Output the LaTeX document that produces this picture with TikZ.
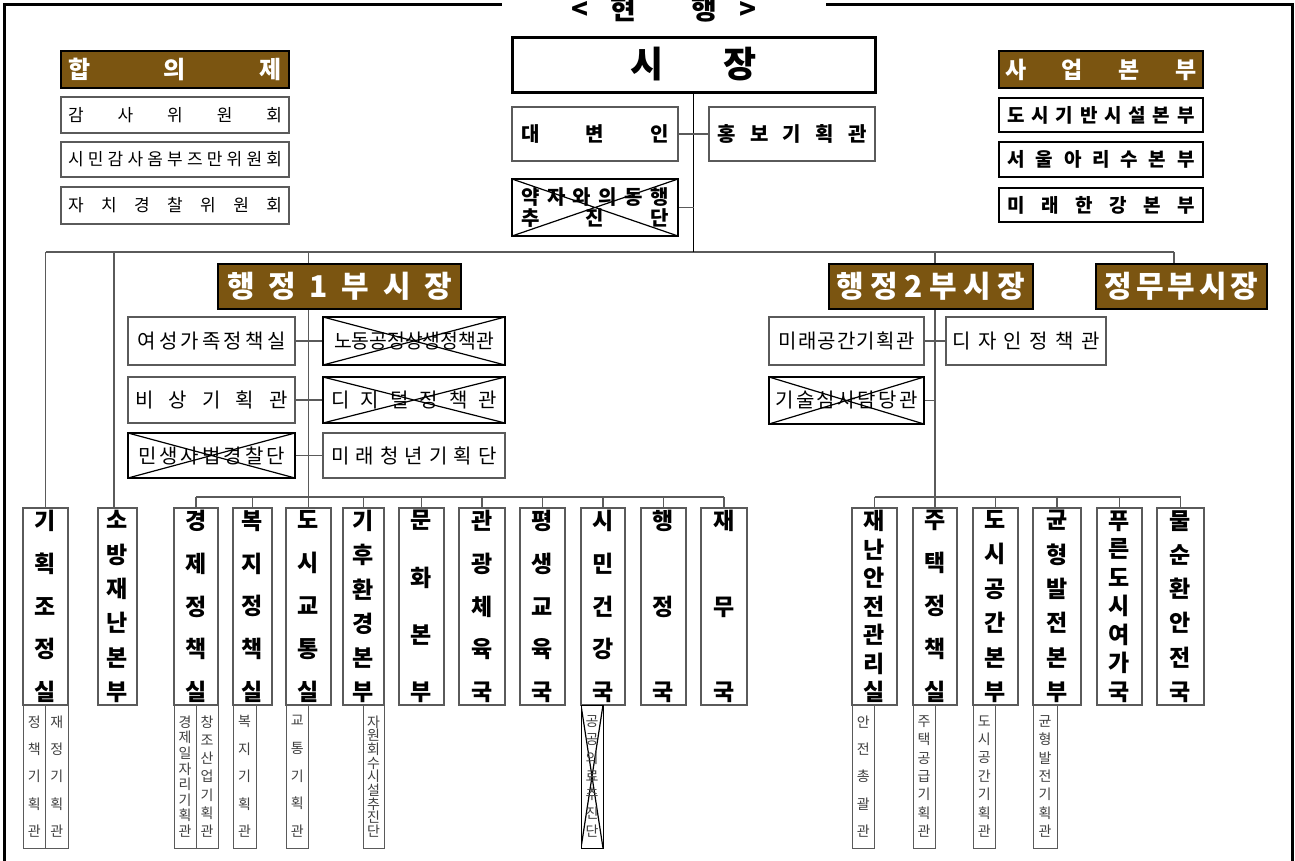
\documentclass[tikz,border=0pt]{standalone}
\usepackage{fontspec}
\setmainfont{Noto Sans CJK KR}
\usepackage{graphicx}
\definecolor{brownbox}{RGB}{123,85,17}
\definecolor{lgray}{RGB}{90,90,90}
\makeatletter
\long\def\sepchars#1#2{\def\sepx{#1}\sep@A#2\relax}
\def\sep@A#1{#1\sep@B}
\def\sep@B#1{\ifx\relax#1\else\sepx#1\expandafter\sep@B\fi}
\makeatother
\newcommand\vsep{\par\vfill}
\newsavebox\fitb
\newcommand\fitx[2]{\sbox\fitb{\sepchars{}{#2}}\ifdim\wd\fitb>#1\relax\resizebox{#1}{\height}{\usebox\fitb}\else\makebox[#1]{\sepchars{\hfill}{#2}}\fi}
\newcommand\vstackc[3]{\parbox[c][#1][s]{#2}{\baselineskip=0pt\lineskip=0pt\lineskiplimit=-\maxdimen\parskip=0pt\centering\sepchars{\vsep}{#3}\par}}
\newcommand\bx[7]{\node[#1, minimum width={(#5)-(#3)}, minimum height={(#6)-(#4)}] (#2) at ({((#3)+(#5))/2},{((#4)+(#6))/2}) {#7};}
\tikzset{
 obox/.style={draw=lgray, line width=1.2pt, inner sep=0pt, fill=white},
 hdrbox/.style={draw=black, line width=2pt, fill=brownbox, text=white, inner sep=0pt},
 xcross/.style={path picture={\draw[black,line width=1.2pt] (path picture bounding box.north west) -- (path picture bounding box.south east) (path picture bounding box.north east) -- (path picture bounding box.south west);}},
 colbox/.style={obox, font=\fontsize{23}{24}\selectfont\bfseries},
 subbox/.style={obox, line width=1pt, text=black!75, font=\fontsize{14}{15}\selectfont},
 lstbox/.style={obox, font=\fontsize{17}{18}\selectfont},
 lstbbox/.style={obox, draw=black, line width=2pt, font=\fontsize{19}{20}\selectfont\bfseries},
 midbox/.style={obox, font=\fontsize{20}{21}\selectfont},
 midbbox/.style={obox, font=\fontsize{20}{21}\selectfont\bfseries},
 conn/.style={draw=lgray, line width=1.2pt},
 frame/.style={draw=black, line width=3pt, line cap=rect},
}
\begin{document}
\begin{tikzpicture}[x=1pt,y=-1pt]
\useasboundingbox (0,0) rectangle (1295,860);
% frame
\draw[frame] (500,4) -- (4,4) -- (4,865);
\draw[frame] (827,4) -- (1292,4) -- (1292,865);
\node[font=\fontsize{28}{28}\selectfont\bfseries, inner sep=0pt] (title) at (664,9) {<\hspace{22pt}현\hspace{55pt}행\hspace{22pt}>};
% mayor
\bx{obox, draw=black, line width=3pt, font=\fontsize{36}{36}\selectfont\bfseries}{mayor}{512}{37}{875}{92}{시\hspace{60pt}장}
\bx{midbbox}{spokes}{512}{107}{678}{161}{\fitx{148pt}{대변인}}
\bx{midbbox}{pr}{709}{107}{875}{161}{\fitx{149pt}{홍보기획관}}
\bx{midbbox, draw=black, xcross, align=center}{weak}{512}{179}{678}{236}{\fitx{147pt}{약자와의동행}\\\fitx{147pt}{추진단}}
% councils
\bx{hdrbox, font=\fontsize{24}{24}\selectfont\bfseries}{hapui}{61}{51}{289}{88}{\fitx{214pt}{합의제}}
\bx{lstbox}{gamsa}{61}{97}{289}{133}{\fitx{214pt}{감사위원회}}
\bx{lstbox}{ombuds}{61}{142}{289}{177}{\fitx{214pt}{시민감사옴부즈만위원회}}
\bx{lstbox}{police}{61}{187}{289}{224}{\fitx{214pt}{자치경찰위원회}}
% business headquarters
\bx{hdrbox, font=\fontsize{23}{23}\selectfont\bfseries}{saup}{999}{51}{1203}{88}{\fitx{192pt}{사업본부}}
\bx{lstbbox}{infra}{999}{98}{1203}{132}{\fitx{187pt}{도시기반시설본부}}
\bx{lstbbox}{arisu}{999}{142}{1203}{177}{\fitx{187pt}{서울아리수본부}}
\bx{lstbbox}{hangang}{999}{188}{1203}{222}{\fitx{187pt}{미래한강본부}}
% deputies
\bx{hdrbox, font=\fontsize{30}{30}\selectfont\bfseries}{dep1}{218}{264}{461}{309}{\fitx{225pt}{행정1부시장}}
\bx{hdrbox, font=\fontsize{30}{30}\selectfont\bfseries}{dep2}{829}{264}{1033}{309}{\fitx{189pt}{행정2부시장}}
\bx{hdrbox, font=\fontsize{30}{30}\selectfont\bfseries}{depP}{1096}{264}{1267}{309}{\fitx{154pt}{정무부시장}}
% under deputy 1
\bx{midbox}{women}{128}{317}{295}{365}{\fitx{148pt}{여성가족정책실}}
\bx{midbox, draw=black, xcross}{labor}{323}{317}{505}{365}{\fitx{160pt}{노동공정상생정책관}}
\bx{midbox}{emerg}{128}{377}{295}{423}{\fitx{152pt}{비상기획관}}
\bx{midbox, draw=black, xcross}{digital}{323}{377}{505}{423}{\fitx{166pt}{디지털정책관}}
\bx{midbox, draw=black, xcross}{judicial}{128}{433}{295}{478}{\fitx{147pt}{민생사법경찰단}}
\bx{midbox}{youth}{323}{433}{505}{478}{\fitx{165pt}{미래청년기획단}}
% under deputy 2
\bx{midbox}{space}{769}{317}{924}{365}{\fitx{136pt}{미래공간기획관}}
\bx{midbox}{design}{946}{317}{1106}{365}{\fitx{147pt}{디자인정책관}}
\bx{midbox, draw=black, xcross}{tech}{769}{377}{924}{424}{\fitx{142pt}{기술심사담당관}}
% columns
\bx{colbox}{gihoek}{23}{508}{68}{705}{\vstackc{190pt}{28pt}{기획조정실}}
\bx{colbox}{sobang}{98}{508}{137}{705}{\vstackc{190pt}{28pt}{소방재난본부}}
\bx{colbox}{econ}{174}{508}{218}{705}{\vstackc{190pt}{28pt}{경제정책실}}
\bx{colbox}{welfare}{233}{508}{272}{705}{\vstackc{190pt}{28pt}{복지정책실}}
\bx{colbox}{transport}{286}{508}{331}{705}{\vstackc{190pt}{28pt}{도시교통실}}
\bx{colbox}{climate}{343}{508}{384}{705}{\vstackc{190pt}{28pt}{기후환경본부}}
\bx{colbox}{culture}{399}{508}{444}{705}{\vstackc{190pt}{28pt}{문화본부}}
\bx{colbox}{tourism}{459}{508}{505}{705}{\vstackc{190pt}{28pt}{관광체육국}}
\bx{colbox}{lifelong}{520}{508}{565}{705}{\vstackc{190pt}{28pt}{평생교육국}}
\bx{colbox}{health}{581}{508}{625}{705}{\vstackc{190pt}{28pt}{시민건강국}}
\bx{colbox}{admin}{641}{508}{686}{705}{\vstackc{190pt}{28pt}{행정국}}
\bx{colbox}{finance}{701}{508}{747}{705}{\vstackc{190pt}{28pt}{재무국}}
\bx{colbox}{disaster}{852}{508}{897}{705}{\vstackc{190pt}{28pt}{재난안전관리실}}
\bx{colbox}{housing}{913}{508}{957}{705}{\vstackc{190pt}{28pt}{주택정책실}}
\bx{colbox}{urbansp}{973}{508}{1018}{705}{\vstackc{190pt}{28pt}{도시공간본부}}
\bx{colbox}{balance}{1033}{508}{1081}{705}{\vstackc{190pt}{28pt}{균형발전본부}}
\bx{colbox}{green}{1097}{508}{1142}{705}{\vstackc{190pt}{28pt}{푸른도시여가국}}
\bx{colbox}{water}{1157}{508}{1204}{705}{\vstackc{190pt}{28pt}{물순환안전국}}
% sub-boxes
\bx{subbox}{gihoek-a}{23}{705}{45.5}{848}{\vstackc{121pt}{16pt}{정책기획관}}
\bx{subbox}{gihoek-b}{45.5}{705}{68}{848}{\vstackc{121pt}{16pt}{재정기획관}}
\bx{subbox}{econ-a}{174}{705}{196}{848}{\vstackc{121pt}{16pt}{경제일자리기획관}}
\bx{subbox}{econ-b}{196}{705}{218}{848}{\vstackc{121pt}{16pt}{창조산업기획관}}
\bx{subbox}{welfare-a}{233}{705}{256}{848}{\vstackc{121pt}{16pt}{복지기획관}}
\bx{subbox}{transport-a}{286}{705}{308.5}{848}{\vstackc{121pt}{16pt}{교통기획관}}
\bx{subbox}{climate-a}{363}{705}{384}{848}{\vstackc{121pt}{16pt}{자원회수시설추진단}}
\bx{subbox, draw=black, xcross}{health-a}{581}{705}{603}{848}{\vstackc{121pt}{16pt}{공공의료추진단}}
\bx{subbox}{disaster-a}{852}{705}{874.5}{848}{\vstackc{121pt}{16pt}{안전총괄관}}
\bx{subbox}{housing-a}{913}{705}{935}{848}{\vstackc{121pt}{16pt}{주택공급기획관}}
\bx{subbox}{urbansp-a}{973}{705}{995.5}{848}{\vstackc{121pt}{16pt}{도시공간기획관}}
\bx{subbox}{balance-a}{1033}{705}{1057}{848}{\vstackc{121pt}{16pt}{균형발전기획관}}
% connectors
\coordinate (busY) at (0,252);
\coordinate (lowY) at (0,497);
\coordinate (v1) at (308.5,252);
\coordinate (v2) at (935,252);
\coordinate (vP) at (1174,252);
\coordinate (vS) at (114,252);
\draw[conn] (gihoek.north |- busY) -- (vP);
\draw[conn] (gihoek.north) -- (gihoek.north |- busY);
\draw[conn] (vS) -- (vS |- sobang.north);
\draw[conn] (v1) -- (v1 |- dep1.north);
\draw[conn] (v2) -- (v2 |- dep2.north);
\draw[conn] (vP) -- (vP |- depP.north);
\draw[draw=black, line width=1pt] (mayor.south) -- (mayor.south |- busY);
\draw[conn] (spokes.east) -- (pr.west);
\draw[conn] (weak.east) -- (weak.east -| mayor.south);
\draw[conn] (v1 |- dep1.south) -- (v1 |- transport.north);
\draw[conn] (v2 |- dep2.south) -- (v2 |- housing.north);
\draw[conn] (women.east) -- (labor.west);
\draw[conn] (emerg.east) -- (digital.west);
\draw[conn] (judicial.east) -- (youth.west);
\draw[conn] (space.east) -- (design.west);
\draw[conn] (tech.east) -- (tech.east -| v2);
\draw[conn] (econ.north |- lowY) -- (finance.north |- lowY);
\foreach \n in {econ,welfare,transport,climate,culture,tourism,lifelong,health,admin,finance}
  \draw[conn] (\n.north) -- (\n.north |- lowY);
\draw[conn] (disaster.north |- lowY) -- (water.north |- lowY);
\foreach \n in {disaster,housing,urbansp,balance,green,water}
  \draw[conn] (\n.north) -- (\n.north |- lowY);
\end{tikzpicture}
\end{document}
